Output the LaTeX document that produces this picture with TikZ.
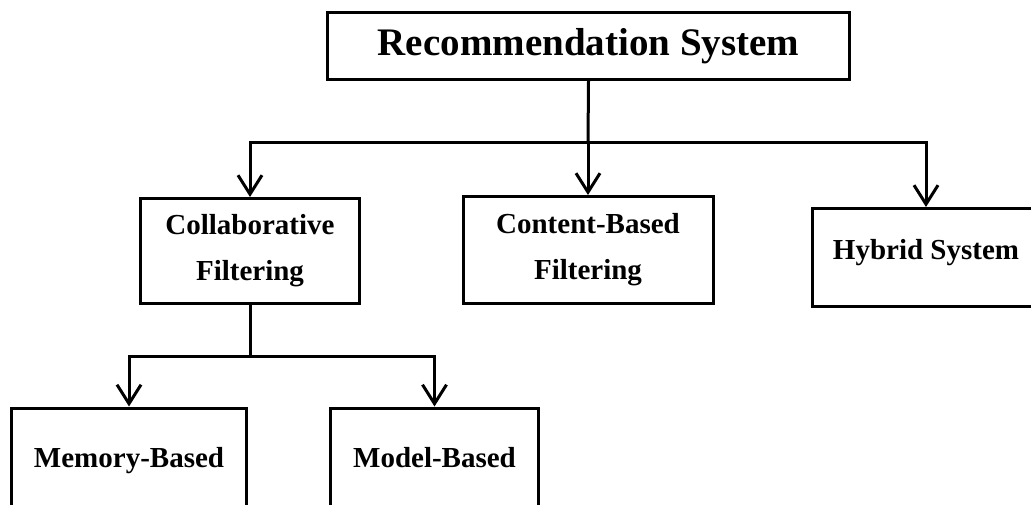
\documentclass[tikz,border=0pt]{standalone}
\usepackage{fontspec}
\setmainfont{Liberation Serif}
\usetikzlibrary{arrows.meta, positioning}

\begin{document}
\begin{tikzpicture}[x=1pt, y=-1pt,
			box/.style={draw=black, line width=3pt, inner sep=0pt, align=center,
				font=\bfseries\fontsize{29}{46}\selectfont},
			leaf/.style={box, minimum height=106pt, text height=20pt, text depth=7pt},
			arr/.style={-{Straight Barb[length=19pt, width=24pt]}, line width=3pt}]
			\useasboundingbox (0,0) rectangle (1031,505);
			% top level
			\node[box, minimum width=522pt, minimum height=67pt,
				font=\bfseries\fontsize{39}{46}\selectfont] (root) at (588.5,46) {Recommendation System};
			% second level
			\node[box, minimum width=219pt, minimum height=105pt] (cf) at (250,251) {Collaborative\\Filtering};
			\node[box, minimum width=250pt, minimum height=107pt] (cb) at (588,250) {Content-Based\\Filtering};
			\node[box, minimum width=227pt, minimum height=98pt, text depth=16pt] (hyb) at (926,257.5) {Hybrid System};
			% third level (cut at the bottom)
			\node[leaf, minimum width=235pt] (mem) at (129,461) {Memory-Based};
			\node[leaf, minimum width=208pt] (mod) at (434.5,461) {Model-Based};
			\coordinate (topsplit) at (588,143);
			\coordinate (cfsplit) at (250,356);
			\draw[line width=3pt] (root.south) -- (topsplit);
			\draw[arr] (topsplit) -| (cf.north);
			\draw[arr] (topsplit) -- (cb.north);
			\draw[arr] (topsplit) -| (hyb.north);
			\draw[line width=3pt] (cf.south) -- (cfsplit);
			\draw[arr] (cfsplit) -| (mem.north);
			\draw[arr] (cfsplit) -| (mod.north);
		\end{tikzpicture}
\end{document}
